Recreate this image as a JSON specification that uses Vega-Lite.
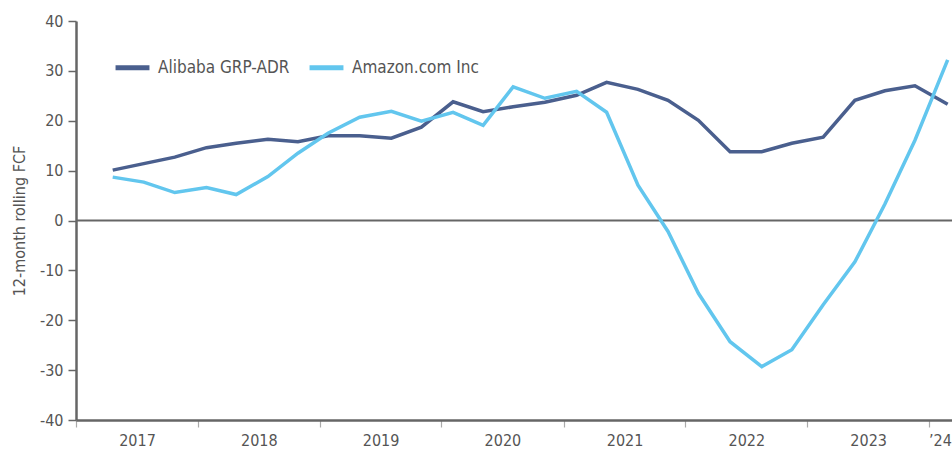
{
  "$schema": "https://vega.github.io/schema/vega-lite/v6.json",
  "width": 876,
  "height": 399,
  "autosize": {"type": "none"},
  "padding": {"left": 76, "top": 21, "right": 0, "bottom": 29},
  "background": "white",
  "config": {
    "view": {"stroke": null},
    "font": "Liberation Sans Narrow, DejaVu Sans Condensed, Roboto, sans-serif"
  },
  "datasets": {
    "fcf": [
      {"date": "2017-04-21", "company": "Alibaba GRP-ADR", "fcf": 10.1},
      {"date": "2017-07-23", "company": "Alibaba GRP-ADR", "fcf": 11.4},
      {"date": "2017-10-24", "company": "Alibaba GRP-ADR", "fcf": 12.7},
      {"date": "2018-01-27", "company": "Alibaba GRP-ADR", "fcf": 14.6},
      {"date": "2018-04-26", "company": "Alibaba GRP-ADR", "fcf": 15.5},
      {"date": "2018-07-30", "company": "Alibaba GRP-ADR", "fcf": 16.3},
      {"date": "2018-10-28", "company": "Alibaba GRP-ADR", "fcf": 15.8},
      {"date": "2019-01-26", "company": "Alibaba GRP-ADR", "fcf": 17.0},
      {"date": "2019-05-01", "company": "Alibaba GRP-ADR", "fcf": 17.0},
      {"date": "2019-08-04", "company": "Alibaba GRP-ADR", "fcf": 16.5},
      {"date": "2019-11-02", "company": "Alibaba GRP-ADR", "fcf": 18.7},
      {"date": "2020-02-05", "company": "Alibaba GRP-ADR", "fcf": 23.8},
      {"date": "2020-05-05", "company": "Alibaba GRP-ADR", "fcf": 21.8},
      {"date": "2020-08-03", "company": "Alibaba GRP-ADR", "fcf": 22.8},
      {"date": "2020-11-06", "company": "Alibaba GRP-ADR", "fcf": 23.7},
      {"date": "2021-02-09", "company": "Alibaba GRP-ADR", "fcf": 25.1},
      {"date": "2021-05-10", "company": "Alibaba GRP-ADR", "fcf": 27.7},
      {"date": "2021-08-12", "company": "Alibaba GRP-ADR", "fcf": 26.3},
      {"date": "2021-11-10", "company": "Alibaba GRP-ADR", "fcf": 24.1},
      {"date": "2022-02-09", "company": "Alibaba GRP-ADR", "fcf": 20.1},
      {"date": "2022-05-15", "company": "Alibaba GRP-ADR", "fcf": 13.8},
      {"date": "2022-08-18", "company": "Alibaba GRP-ADR", "fcf": 13.8},
      {"date": "2022-11-16", "company": "Alibaba GRP-ADR", "fcf": 15.5},
      {"date": "2023-02-18", "company": "Alibaba GRP-ADR", "fcf": 16.7},
      {"date": "2023-05-24", "company": "Alibaba GRP-ADR", "fcf": 24.1},
      {"date": "2023-08-22", "company": "Alibaba GRP-ADR", "fcf": 26.0},
      {"date": "2023-11-20", "company": "Alibaba GRP-ADR", "fcf": 27.0},
      {"date": "2024-02-26", "company": "Alibaba GRP-ADR", "fcf": 23.3},
      {"date": "2017-04-21", "company": "Amazon.com Inc", "fcf": 8.7},
      {"date": "2017-07-23", "company": "Amazon.com Inc", "fcf": 7.7},
      {"date": "2017-10-24", "company": "Amazon.com Inc", "fcf": 5.6},
      {"date": "2018-01-27", "company": "Amazon.com Inc", "fcf": 6.6},
      {"date": "2018-04-26", "company": "Amazon.com Inc", "fcf": 5.2},
      {"date": "2018-07-30", "company": "Amazon.com Inc", "fcf": 8.8},
      {"date": "2018-10-28", "company": "Amazon.com Inc", "fcf": 13.5},
      {"date": "2019-01-26", "company": "Amazon.com Inc", "fcf": 17.5},
      {"date": "2019-05-01", "company": "Amazon.com Inc", "fcf": 20.7},
      {"date": "2019-08-04", "company": "Amazon.com Inc", "fcf": 21.9},
      {"date": "2019-11-02", "company": "Amazon.com Inc", "fcf": 19.9},
      {"date": "2020-02-05", "company": "Amazon.com Inc", "fcf": 21.7},
      {"date": "2020-05-05", "company": "Amazon.com Inc", "fcf": 19.1},
      {"date": "2020-08-03", "company": "Amazon.com Inc", "fcf": 26.8},
      {"date": "2020-11-06", "company": "Amazon.com Inc", "fcf": 24.5},
      {"date": "2021-02-09", "company": "Amazon.com Inc", "fcf": 25.9},
      {"date": "2021-05-10", "company": "Amazon.com Inc", "fcf": 21.7},
      {"date": "2021-08-12", "company": "Amazon.com Inc", "fcf": 7.1},
      {"date": "2021-11-10", "company": "Amazon.com Inc", "fcf": -2.2},
      {"date": "2022-02-09", "company": "Amazon.com Inc", "fcf": -14.6},
      {"date": "2022-05-15", "company": "Amazon.com Inc", "fcf": -24.3},
      {"date": "2022-08-18", "company": "Amazon.com Inc", "fcf": -29.3},
      {"date": "2022-11-16", "company": "Amazon.com Inc", "fcf": -25.9},
      {"date": "2023-02-18", "company": "Amazon.com Inc", "fcf": -16.9},
      {"date": "2023-05-24", "company": "Amazon.com Inc", "fcf": -8.3},
      {"date": "2023-08-22", "company": "Amazon.com Inc", "fcf": 3.3},
      {"date": "2023-11-20", "company": "Amazon.com Inc", "fcf": 16.1},
      {"date": "2024-02-26", "company": "Amazon.com Inc", "fcf": 32.2}
    ],
    "zero": [{"v": 0}]
  },
  "layer": [
    {
      "data": {"name": "zero"},
      "mark": {"type": "rule", "color": "#666666", "strokeWidth": 2},
      "encoding": {"y": {"field": "v", "type": "quantitative"}}
    },
    {
      "data": {"name": "fcf"},
      "mark": {"type": "line", "strokeWidth": 3.5, "clip": true},
      "encoding": {
        "x": {
          "field": "date",
          "type": "temporal",
          "scale": {"domain": ["2017-01-01", "2024-03-10"]},
          "axis": {
            "title": null,
            "grid": false,
            "values": ["2017-01-01", "2018-01-01", "2019-01-01", "2020-01-01", "2021-01-01", "2022-01-01", "2023-01-01", "2024-01-01"],
            "labelExpr": "year(datum.value) == 2024 ? '’24' : timeFormat(datum.value, '%Y')",
            "labelOffset": {"condition": {"test": "year(datum.value) == 2024", "value": 11}, "value": 61},
            "labelAlign": "center",
            "labelFontSize": 16,
            "labelColor": "#555555",
            "labelPadding": 5,
            "tickColor": "#aaaaaa",
            "tickSize": 7,
            "tickWidth": 1.2,
            "domainColor": "#666666",
            "domainWidth": 2.5
          }
        },
        "y": {
          "field": "fcf",
          "type": "quantitative",
          "scale": {"domain": [-40, 40], "nice": false},
          "axis": {
            "title": "12-month rolling FCF",
            "titleFontSize": 16,
            "titleFontWeight": "normal",
            "titleColor": "#555555",
            "titlePadding": 12,
            "values": [-40, -30, -20, -10, 0, 10, 20, 30, 40],
            "labelExpr": "'' + datum.value",
            "grid": false,
            "labelFontSize": 16,
            "labelColor": "#555555",
            "labelPadding": 5,
            "tickColor": "#666666",
            "tickSize": 8,
            "tickWidth": 1.5,
            "domainColor": "#666666",
            "domainWidth": 2.5
          }
        },
        "color": {
          "field": "company",
          "type": "nominal",
          "scale": {"domain": ["Alibaba GRP-ADR", "Amazon.com Inc"], "range": ["#4a5f8e", "#62c6ee"]},
          "legend": {
            "title": null,
            "orient": "none",
            "legendX": 37,
            "legendY": 27,
            "direction": "horizontal",
            "symbolType": "stroke",
            "symbolSize": 1150,
            "symbolStrokeWidth": 5,
            "labelFontSize": 17,
            "labelColor": "#555555",
            "labelOffset": 6,
            "columnPadding": 9
          }
        }
      }
    }
  ]
}
